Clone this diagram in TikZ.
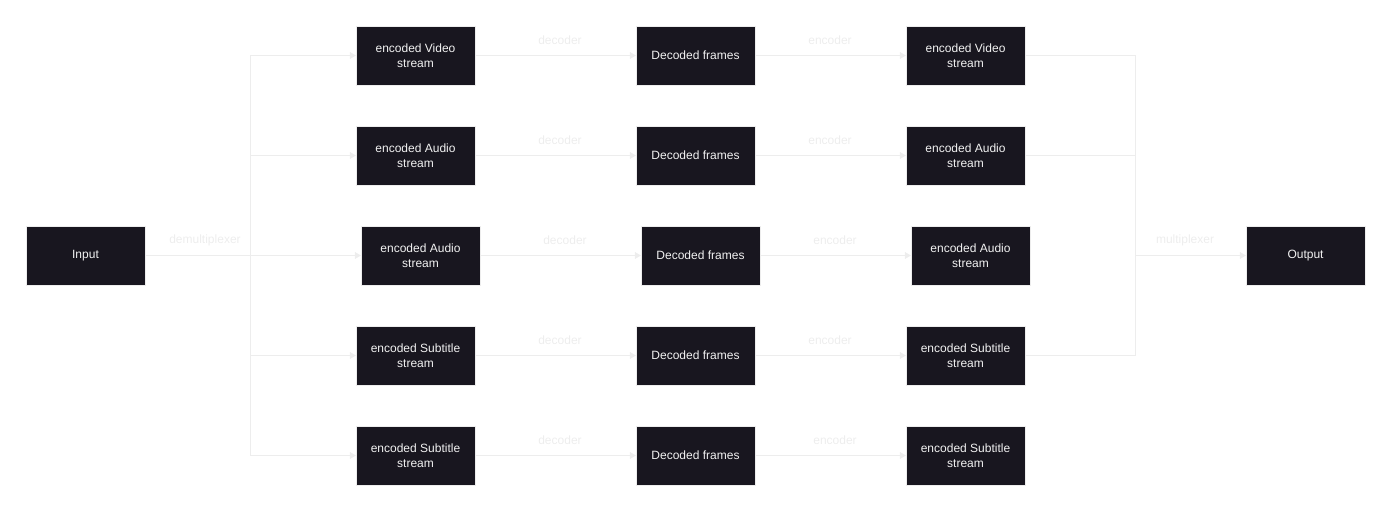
\documentclass[tikz,border=0pt]{standalone}
\usepackage{fontspec}
\setmainfont{Liberation Sans}
\usetikzlibrary{arrows.meta}
\definecolor{scuro}{HTML}{18161F}
\definecolor{chiaro}{HTML}{EDEDED}
\definecolor{testo}{HTML}{F2F2F2}
\tikzset{
  blocco/.style={rectangle, fill=scuro, draw=chiaro, line width=0.4pt,
    minimum width=119pt, minimum height=59pt, inner sep=0pt,
    text=testo, align=center, font=\fontsize{12}{15}\selectfont},
  etichetta/.style={text=chiaro, inner sep=0pt, font=\fontsize{12}{15}\selectfont},
  linea/.style={draw=chiaro, line width=0.8pt},
  freccia/.style={linea, -{Triangle[length=6pt,width=7pt]}}
}
\begin{document}
\begin{tikzpicture}[x=1pt,y=-1pt]
        \useasboundingbox (0,0) rectangle (1391,511);
        %%%%%%%%%% Nodi %%%%%%%%%%
        \node[blocco] (in) at (85.5,255.5) {Input};
        \node[blocco] (out) at (1305.5,255.5) {Output};

        \node[blocco] (v1) at (415.5,55.5) {encoded Video\\stream};
        \node[blocco] (a1) at (415.5,155.5) {encoded Audio\\stream};
        \node[blocco] (a2) at (420.5,255.5) {encoded Audio\\stream};
        \node[blocco] (s1) at (415.5,355.5) {encoded Subtitle\\stream};
        \node[blocco] (s2) at (415.5,455.5) {encoded Subtitle\\stream};

        \node[blocco] (fv1) at (695.5,55.5) {Decoded frames};
        \node[blocco] (fa1) at (695.5,155.5) {Decoded frames};
        \node[blocco] (fa2) at (700.5,255.5) {Decoded frames};
        \node[blocco] (fs1) at (695.5,355.5) {Decoded frames};
        \node[blocco] (fs2) at (695.5,455.5) {Decoded frames};

        \node[blocco] (ev1) at (965.5,55.5) {encoded Video\\stream};
        \node[blocco] (ea1) at (965.5,155.5) {encoded Audio\\stream};
        \node[blocco] (ea2) at (970.5,255.5) {encoded Audio\\stream};
        \node[blocco] (es1) at (965.5,355.5) {encoded Subtitle\\stream};
        \node[blocco] (es2) at (965.5,455.5) {encoded Subtitle\\stream};

        %%%%%%%%% Punti %%%%%%%%%
        \coordinate (d1) at (250,55.5);
        \coordinate (d2) at (250,155.5);
        \coordinate (d3) at (250,255.5);
        \coordinate (d4) at (250,355.5);
        \coordinate (d5) at (250,455.5);
        \coordinate (m1) at (1135,55.5);
        \coordinate (m2) at (1135,155.5);
        \coordinate (m3) at (1135,255.5);
        \coordinate (m4) at (1135,355.5);

        %%%%%%%%% Etichette %%%%%%%%%
        \node[etichetta] (ldmx) at (205,240) {demultiplexer};
        \node[etichetta] (lmx) at (1185,240) {multiplexer};
        \node[etichetta] (ldec1) at (560,40) {decoder};
        \node[etichetta] (ldec2) at (560,140) {decoder};
        \node[etichetta] (ldec3) at (565,240) {decoder};
        \node[etichetta] (ldec4) at (560,340) {decoder};
        \node[etichetta] (ldec5) at (560,440) {decoder};
        \node[etichetta] (lenc1) at (830,40) {encoder};
        \node[etichetta] (lenc2) at (830,140) {encoder};
        \node[etichetta] (lenc3) at (835,240) {encoder};
        \node[etichetta] (lenc4) at (830,340) {encoder};
        \node[etichetta] (lenc5) at (835,440) {encoder};

        %%%%%%%%% Frecce %%%%%%%%%
        \draw[linea] (in) -- (d3);
        \draw[linea] (d1) -- (d5);
        \draw[freccia] (d1) -- (v1);
        \draw[freccia] (d2) -- (a1);
        \draw[freccia] (d3) -- (a2);
        \draw[freccia] (d4) -- (s1);
        \draw[freccia] (d5) -- (s2);

        \draw[freccia] (v1) -- (fv1);
        \draw[freccia] (a1) -- (fa1);
        \draw[freccia] (a2) -- (fa2);
        \draw[freccia] (s1) -- (fs1);
        \draw[freccia] (s2) -- (fs2);

        \draw[freccia] (fv1) -- (ev1);
        \draw[freccia] (fa1) -- (ea1);
        \draw[freccia] (fa2) -- (ea2);
        \draw[freccia] (fs1) -- (es1);
        \draw[freccia] (fs2) -- (es2);

        \draw[linea] (ev1) -- (m1);
        \draw[linea] (ea1) -- (m2);
        \draw[linea] (es1) -- (m4);
        \draw[linea] (m1) -- (m4);
        \draw[freccia] (m3) -- (out);
    \end{tikzpicture}
\end{document}
